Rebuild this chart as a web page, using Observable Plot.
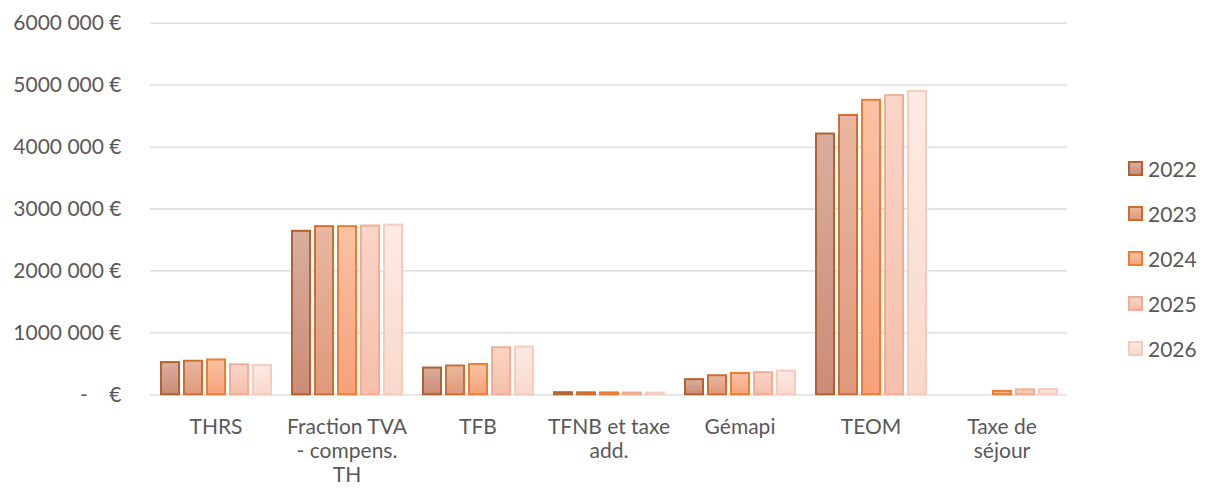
<!DOCTYPE html>
<html>
<head>
<meta charset="utf-8">
<script src="https://cdn.jsdelivr.net/npm/d3@7"></script>
<script src="https://cdn.jsdelivr.net/npm/@observablehq/plot@0.6"></script>
<style>
  html, body { margin: 0; padding: 0; background: #fff; }
  #wrap { position: relative; width: 1205px; height: 493px; font-family: Lato, "Open Sans", sans-serif; color: #595959; }
  #legend { position: absolute; left: 1128px; top: 146px; }
  .item { display: flex; align-items: center; height: 45px; font-size: 21px; }
  .sw { width: 11px; height: 11px; border: 2px solid; margin-right: 5px; }
</style>
</head>
<body>
<div id="wrap"><div id="chart"></div><div id="legend"></div></div>
<script>
const categories = ["THRS", "Fraction TVA - compens. TH", "TFB", "TFNB et taxe add.", "Gémapi", "TEOM", "Taxe de séjour"];
const categoryLabels = ["THRS", "Fraction TVA\n- compens.\nTH", "TFB", "TFNB et taxe\nadd.", "Gémapi", "TEOM", "Taxe de\nséjour"];
const years = ["2022", "2023", "2024", "2025", "2026"];
const values2022 = [520000, 2640000, 432000, 34000, 245000, 4210000, 0];
const values2023 = [542000, 2715000, 465000, 32000, 308000, 4510000, 0];
const values2024 = [563000, 2715000, 490000, 31000, 345000, 4755000, 55000];
const values2025 = [485000, 2725000, 760000, 29000, 357000, 4830000, 80000];
const values2026 = [472000, 2740000, 770000, 27000, 383000, 4900000, 85000];
const yTicks = [0, 1000000, 2000000, 3000000, 4000000, 5000000, 6000000];

const strokeColors = ["#b4612f", "#cf6e31", "#ed7d31", "#f1ad95", "#f6ccbe"];
const fillTop = ["#d9ae9f", "#e8b7a2", "#fac2a6", "#fad5c8", "#fdebe4"];
const fillBottom = ["#cb8c77", "#df997c", "#f5a27a", "#f5bfab", "#f9d8cc"];

const series = [values2022, values2023, values2024, values2025, values2026];
const rows = [];
categories.forEach((c, i) => years.forEach((y, j) => rows.push({category: c, year: y, value: series[j][i]})));

const fmt = d => d === 0 ? "-\u00a0\u00a0\u00a0\u00a0€" : `${Math.floor(d / 1000)} ${String(d % 1000).padStart(3, "0")} €`;

const plot = Plot.plot({
  width: 1205,
  height: 493,
  marginLeft: 147,
  marginRight: 136,
  marginTop: 22.7,
  marginBottom: 98.7,
  style: {fontFamily: "Lato, 'Open Sans', sans-serif", fontSize: "21px", color: "#595959", background: "#fff"},
  fx: {domain: categories, padding: 0},
  x: {domain: years, axis: null, paddingInner: 0.14, paddingOuter: 0.4},
  y: {domain: [0, 6000000], axis: null},
  marks: [
    Plot.ruleY(yTicks, {stroke: "#d9d9d9", strokeWidth: 1.3}),
    ...years.map((yr, j) => Plot.barY(rows.filter(d => d.year === yr && d.value > 0), {
      fx: "category", x: "year", y: "value",
      fill: `url(#grad${yr})`, stroke: strokeColors[j], strokeWidth: 2, insetLeft: 1, insetRight: 1
    })),
    Plot.axisY({ticks: yTicks, tickFormat: fmt, tickSize: 0, tickPadding: 29, label: null, fontSize: 21}),
    Plot.axisFx({anchor: "bottom", tickFormat: d => categoryLabels[categories.indexOf(d)], tickSize: 0, tickPadding: 22, label: null, lineHeight: 1.14, fontSize: 21})
  ]
});

const svg = d3.select(plot);
const defs = svg.insert("defs", ":first-child");
years.forEach((yr, j) => {
  const g = defs.append("linearGradient").attr("id", `grad${yr}`).attr("x1", 0).attr("y1", 0).attr("x2", 0).attr("y2", 1);
  g.append("stop").attr("offset", "0%").attr("stop-color", fillTop[j]);
  g.append("stop").attr("offset", "100%").attr("stop-color", fillBottom[j]);
});
document.getElementById("chart").appendChild(plot);

const legend = d3.select("#legend");
years.forEach((yr, j) => {
  const it = legend.append("div").attr("class", "item");
  it.append("div").attr("class", "sw")
    .style("border-color", strokeColors[j])
    .style("background", `linear-gradient(${fillTop[j]}, ${fillBottom[j]})`);
  it.append("span").text(yr);
});
</script>
</body>
</html>
